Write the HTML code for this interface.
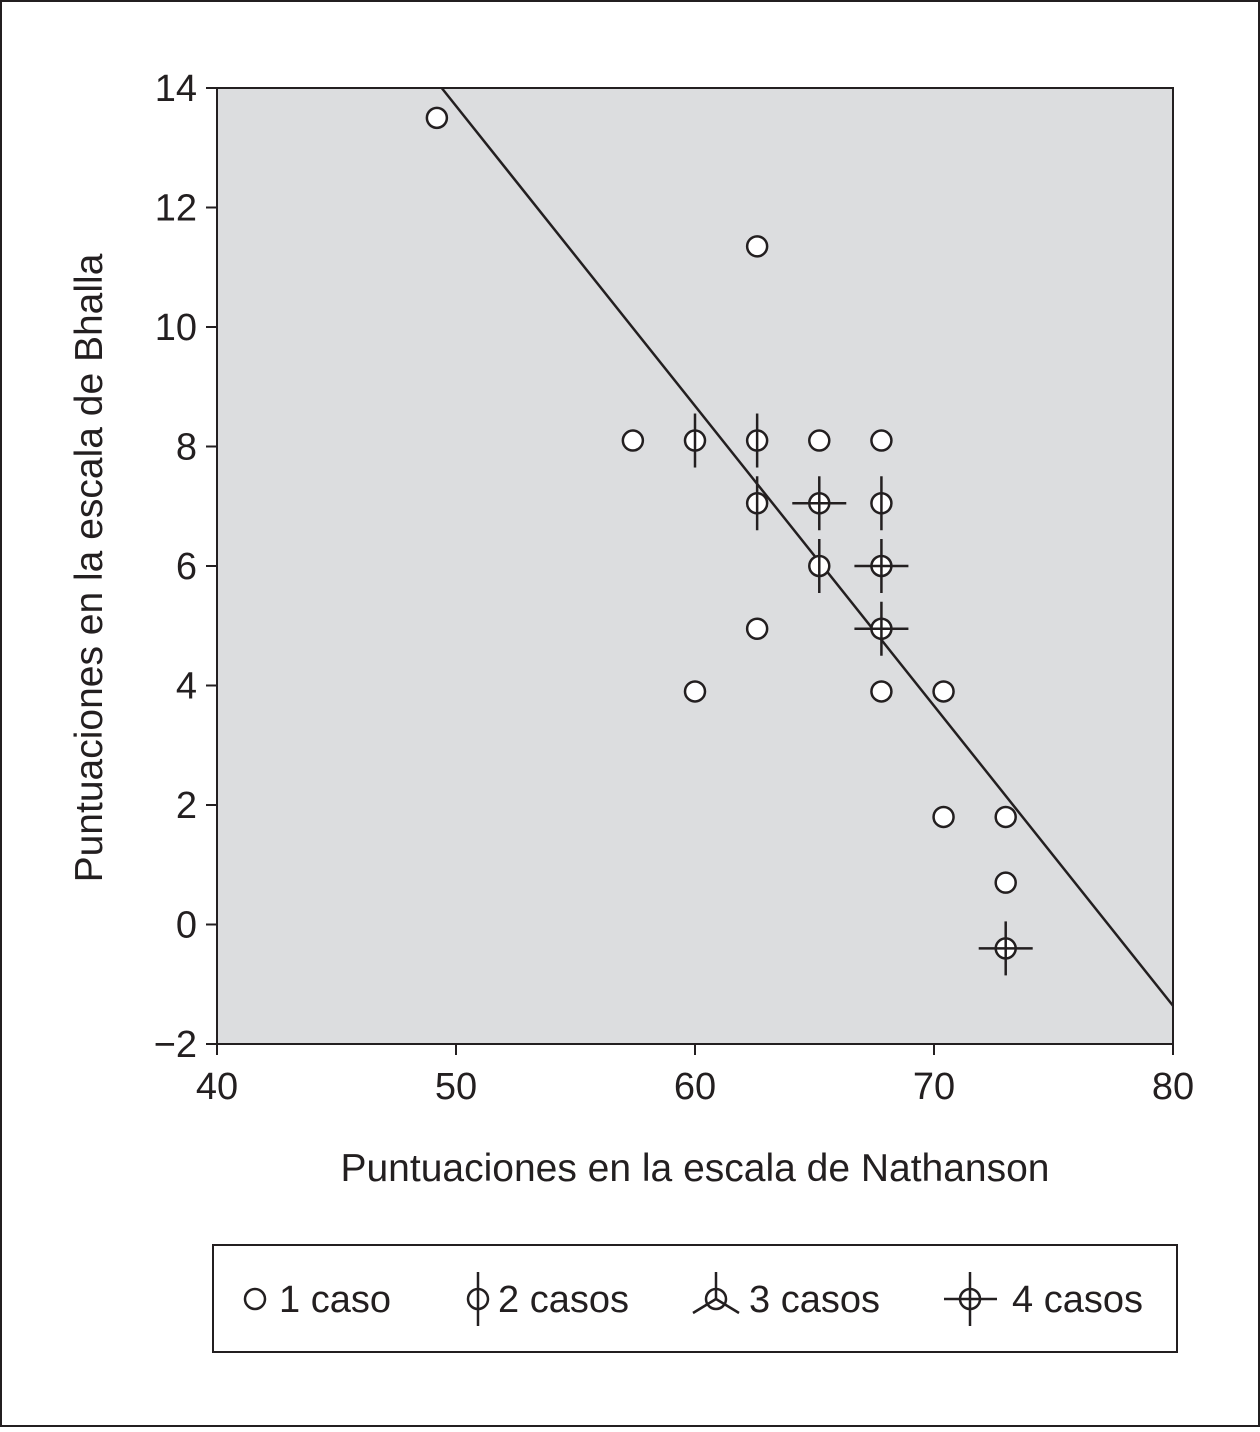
<!DOCTYPE html>
<html><head><meta charset="utf-8"><style>
body{margin:0;background:#fff}
svg text{font-family:"Liberation Sans",Arial,sans-serif;fill:#231f20}
</style></head><body>
<svg id="c" width="1260" height="1427" viewBox="0 0 1260 1427" xmlns="http://www.w3.org/2000/svg">
<rect x="1" y="1" width="1258" height="1425" fill="#fff" stroke="#231f20" stroke-width="2"/>
<rect x="217" y="88" width="956" height="956" fill="#dcdddf" stroke="#231f20" stroke-width="2"/>
<g id="axes"></g>
<g id="marks"></g>
<text x="695" y="1181" font-size="39" text-anchor="middle">Puntuaciones en la escala de Nathanson</text>
<text transform="translate(102,568) rotate(-90)" font-size="39" text-anchor="middle">Puntuaciones en la escala de Bhalla</text>
<g>
<rect x="213" y="1245" width="964" height="107" fill="#fff" stroke="#231f20" stroke-width="2"/>
<g>
<circle cx="255" cy="1299" r="10" fill="#fff" stroke="#231f20" stroke-width="2.5"/>
<text x="279" y="1312" font-size="38">1 caso</text></g>
<g>
<line x1="478" y1="1272" x2="478" y2="1326" stroke="#231f20" stroke-width="2.5"/>
<circle cx="478" cy="1299" r="10" fill="none" stroke="#231f20" stroke-width="2.5"/>
<text x="498" y="1312" font-size="38">2 casos</text></g>
<g>
<line x1="716" y1="1299" x2="716" y2="1272" stroke="#231f20" stroke-width="2.5"/>
<line x1="716" y1="1299" x2="693" y2="1313" stroke="#231f20" stroke-width="2.5"/>
<line x1="716" y1="1299" x2="739" y2="1313" stroke="#231f20" stroke-width="2.5"/>
<circle cx="716" cy="1299" r="10" fill="none" stroke="#231f20" stroke-width="2.5"/>
<text x="749" y="1312" font-size="38">3 casos</text></g>
<g>
<line x1="970" y1="1272" x2="970" y2="1326" stroke="#231f20" stroke-width="2.5"/>
<line x1="944" y1="1299" x2="997" y2="1299" stroke="#231f20" stroke-width="2.5"/>
<circle cx="970" cy="1299" r="10" fill="none" stroke="#231f20" stroke-width="2.5"/>
<text x="1012" y="1312" font-size="38">4 casos</text></g>
</g>
</svg>
<script>
const xTicks=[40,50,60,70,80];
const yTicks=[14,12,10,8,6,4,2,0,-2];
const yTickLabels=["14","12","10","8","6","4","2","0","\u22122"];
const ptX=[49.2,62.6,57.4,60,62.6,65.2,67.8,62.6,65.2,67.8,65.2,67.8,62.6,67.8,60,67.8,70.4,70.4,73,73,73];
const ptY=[13.5,11.35,8.1,8.1,8.1,8.1,8.1,7.05,7.05,7.05,6,6,4.95,4.95,3.9,3.9,3.9,1.8,1.8,0.7,-0.4];
const ptN=[1,1,1,2,2,1,1,2,4,2,2,4,1,4,1,1,1,1,1,1,4];
const fitIntercept=38.8, fitSlope=-0.502;
const NS="http://www.w3.org/2000/svg";
const sx=v=>217+(v-40)*956/40, sy=v=>88+(14-v)*956/16;
function el(t,a,p){const e=document.createElementNS(NS,t);for(const k in a)e.setAttribute(k,a[k]);p.appendChild(e);return e;}
const ax=document.getElementById('axes'), mk=document.getElementById('marks');
xTicks.forEach(v=>{
 const t=el('line',{x1:sx(v),x2:sx(v),y1:1044,y2:1055,stroke:'#231f20','stroke-width':2},ax);
 
 
 const l=el('text',{x:sx(v),y:1099,'font-size':38,'text-anchor':'middle'},ax);l.textContent=v;
 
 
});
yTicks.forEach((v,i)=>{
 const t=el('line',{x1:206,x2:217,y1:sy(v),y2:sy(v),stroke:'#231f20','stroke-width':2},ax);
 
 
 const l=el('text',{x:197,y:sy(v)+13,'font-size':38,'text-anchor':'end'},ax);l.textContent=yTickLabels[i];
 
 
});
let x0=(fitIntercept-14)/(-fitSlope); if(x0<40)x0=40;
const x1=80;
const fl=el('line',{x1:sx(x0),y1:sy(fitIntercept+fitSlope*x0),x2:sx(x1),y2:sy(fitIntercept+fitSlope*x1),stroke:'#231f20','stroke-width':2.5},mk);


ptX.forEach((x,i)=>{
 const g=el('g',{},mk);
 
 
 const cx=sx(x), cy=sy(ptY[i]);
 el('circle',{cx:cx,cy:cy,r:10,fill:'#fff',stroke:'#231f20','stroke-width':2.5},g);
 if(ptN[i]>=2) el('line',{x1:cx,x2:cx,y1:cy-27,y2:cy+27,stroke:'#231f20','stroke-width':2.5},g);
 if(ptN[i]>=4) el('line',{x1:cx-27,x2:cx+27,y1:cy,y2:cy,stroke:'#231f20','stroke-width':2.5},g);
});
</script>
</body></html>
